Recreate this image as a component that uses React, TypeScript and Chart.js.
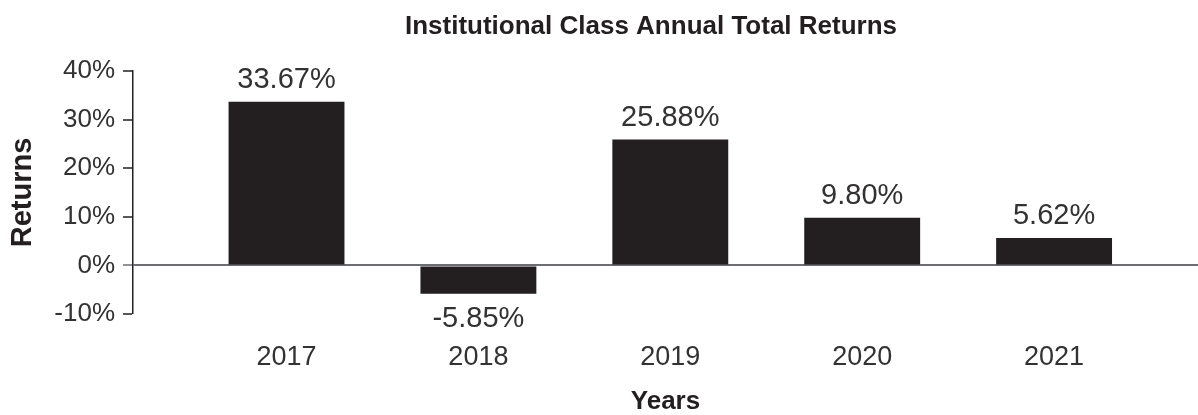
import React, { useEffect, useRef } from "react";
import { Chart, registerables } from "chart.js";

Chart.register(...registerables);

const years = [2017, 2018, 2019, 2020, 2021];
const returns = [33.67, -5.85, 25.88, 9.8, 5.62];
const yTicks = [-10, 0, 10, 20, 30, 40];
const chartTitle = "Institutional Class Annual Total Returns";
const xTitle = "Years";
const yTitle = "Returns";

const FONT = "'Liberation Sans', Helvetica, Arial, sans-serif";
const INK = "#231f20";
const TEXT = "#333132";

const titlePlugin = {
  id: "customTitle",
  afterDraw(chart: any) {
    const { ctx } = chart;
    ctx.save();
    ctx.font = `bold 26px ${FONT}`;
    ctx.fillStyle = INK;
    ctx.textAlign = "center";
    ctx.textBaseline = "middle";
    ctx.fillText(chartTitle, 651, 27);
    ctx.restore();
  },
};

const valueLabels = {
  id: "valueLabels",
  afterDatasetsDraw(chart: any) {
    const { ctx } = chart;
    const meta = chart.getDatasetMeta(0);
    ctx.save();
    ctx.font = `29px ${FONT}`;
    ctx.fillStyle = TEXT;
    ctx.textAlign = "center";
    ctx.textBaseline = "middle";
    meta.data.forEach((bar: any, i: number) => {
      const v = returns[i];
      const y = v >= 0 ? bar.y - 22 : bar.y + 25;
      ctx.fillText(`${v.toFixed(2)}%`, bar.x, y);
    });
    ctx.restore();
  },
};

export default function App() {
  const ref = useRef<HTMLCanvasElement>(null);
  useEffect(() => {
    if (!ref.current) return;
    const chart = new Chart(ref.current, {
      type: "bar",
      data: {
        datasets: [
          {
            data: years.map((yr, i) => ({ x: yr, y: returns[i] })),
            backgroundColor: INK,
            borderWidth: 0,
            categoryPercentage: 1,
            barPercentage: 0.604,
          },
        ],
      },
      options: {
        animation: false,
        responsive: true,
        maintainAspectRatio: false,
        layout: { padding: { top: 71, left: 0, right: 0, bottom: 0 } },
        plugins: {
          legend: { display: false },
          title: { display: false },
          tooltip: { enabled: false },
        },
        scales: {
          x: {
            type: "linear",
            offset: false,
            min: 2016.2,
            max: 2021.75,
            grid: { display: false, drawTicks: false },
            border: { display: false },
            afterFit: (s: any) => {
              s.height = 101;
            },
            afterBuildTicks: (s: any) => {
              s.ticks = years.map((v) => ({ value: v }));
            },
            ticks: {
              autoSkip: false,
              maxRotation: 0,
              padding: 27,
              color: TEXT,
              font: { family: FONT, size: 27 },
              callback: (v: any) => String(v),
            },
            title: {
              display: true,
              text: xTitle,
              color: INK,
              padding: { top: 0, bottom: 0 },
              font: { family: FONT, size: 26, weight: "bold", lineHeight: 1 },
            },
          },
          y: {
            min: -10,
            max: 40,
            afterFit: (s: any) => {
              s.width = 133;
            },
            afterBuildTicks: (s: any) => {
              s.ticks = yTicks.map((v) => ({ value: v }));
            },
            border: { display: true, color: INK, width: 1.5 },
            grid: {
              drawTicks: true,
              tickLength: 10,
              tickColor: (c: any) => (c.tick && c.tick.value === 0 ? "#6d6e71" : INK),
              tickWidth: 1.5,
              color: (c: any) => (c.tick && c.tick.value === 0 ? "#6d6e71" : "rgba(0,0,0,0)"),
              lineWidth: (c: any) => (c.tick && c.tick.value === 0 ? 2 : 0),
            },
            ticks: {
              padding: 8,
              color: TEXT,
              font: { family: FONT, size: 26 },
              callback: (v: any) => `${v}%`,
            },
            title: {
              display: true,
              text: yTitle,
              color: INK,
              padding: { top: 8, bottom: 0 },
              font: { family: FONT, size: 29, weight: "bold", lineHeight: 1 },
            },
          },
        },
      },
      plugins: [valueLabels, titlePlugin],
    });
    return () => chart.destroy();
  }, []);
  return (
    <div style={{ position: "absolute", left: 0, top: 0, width: 1198, height: 415 }}>
      <canvas ref={ref} />
    </div>
  );
}
